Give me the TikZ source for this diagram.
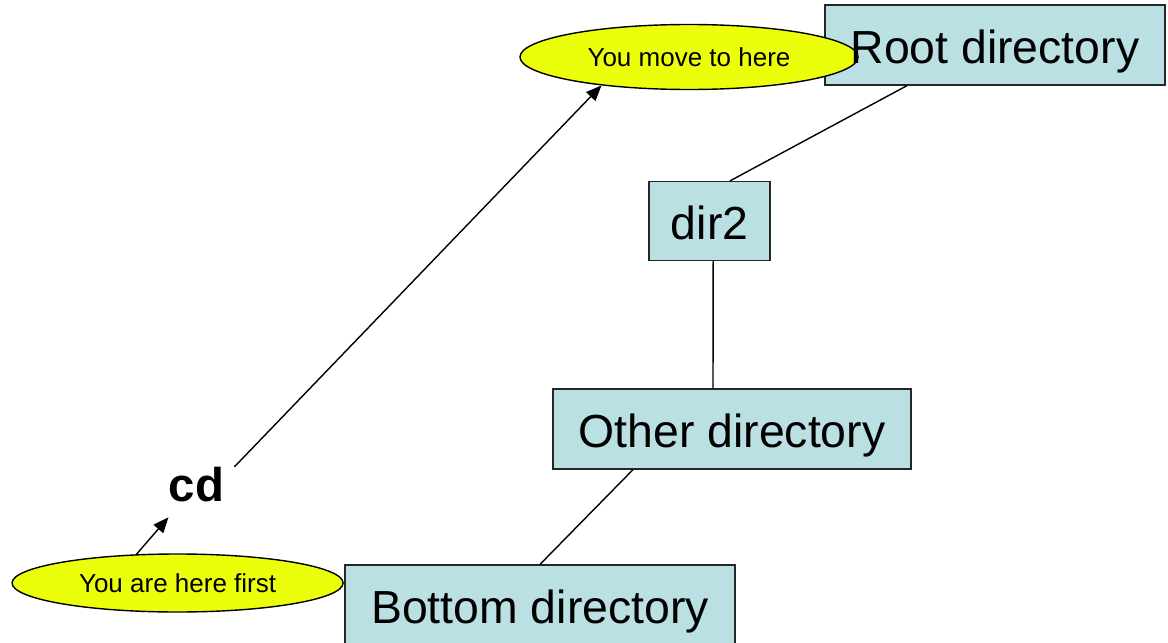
\documentclass[tikz,border=0pt]{standalone}
\usepackage{fontspec}
\setmainfont{Liberation Sans}
\usetikzlibrary{shapes.geometric, arrows.meta, calc, positioning}
\definecolor{dirblue}{RGB}{187,224,227}
\definecolor{noteyellow}{RGB}{236,255,10}
\tikzstyle{dirtext} = [inner sep=0pt, text height=28pt, text depth=2pt, font=\fontsize{33}{40}\selectfont]
\tikzstyle{dirbox} = [dirtext, rectangle, minimum height=2cm, text centered, draw=black!85, line width=0.9pt, fill=dirblue]
\tikzstyle{bubble} = [ellipse, inner sep=0pt, text centered, draw=black, line width=1pt, fill=noteyellow, font=\fontsize{18.5}{22}\selectfont]
\tikzstyle{arrow} = [line width=1pt,-{Triangle[length=11pt,width=9pt]}]
\tikzstyle{link} = [line width=1pt]

\begin{document}
\begin{tikzpicture}[node distance=4.4cm]
    \useasboundingbox (0,0) rectangle (29.2,-16.075);
    \node (root) [dirbox, minimum width=8.5cm] at (24.875,-1.125) {};
    \node (dir2) [dirbox, minimum width=3.025cm, minimum height=1.975cm, below of=root, xshift=-7.135cm] {dir2};
    \node (other) [dirbox, minimum width=8.95cm, below of=dir2, yshift=-0.8cm, xshift=0.56cm] {Other directory};
    \node (bottom) [dirbox, minimum width=9.75cm, below of=other, xshift=-4.8cm] {Bottom directory};
    \node (here) [bubble, minimum width=8.45cm, minimum height=1.625cm, left of=root, xshift=-3.25cm, yshift=-0.3cm] {You move to here};
    \node (roottext) [dirtext] at (root) {Root directory}; % sopra l'ellisse
    \node (first) [bubble, minimum width=8.275cm, minimum height=1.45cm, left of=bottom, xshift=-4.66cm, yshift=0.55cm] {You are here first};
    \node (cd) [inner sep=0pt, font=\fontsize{33.7}{40}\selectfont\bfseries, above of=first, xshift=0.47cm, yshift=-1.94cm] {cd};

    \draw [link] ([xshift=-2.2cm]root.south) -- ([xshift=0.51cm]dir2.north);
    \draw [link] ([xshift=0.09cm]dir2.south) -- ([xshift=-0.475cm]other.north);
    \draw [link] ([xshift=-2.475cm]other.south) -- (bottom.north);
    \draw [arrow] (first.145) -- ([yshift=-0.375cm]cd.south west);
    \draw [arrow] ([xshift=0.25cm]cd.north east) -- (here.198);
\end{tikzpicture}
\end{document}
